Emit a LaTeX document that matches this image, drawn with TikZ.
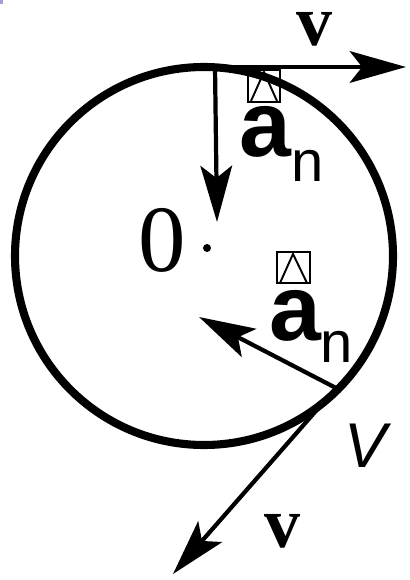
\documentclass[tikz,border=0pt]{standalone}
\usepackage{fontspec}
\setmainfont{Liberation Serif}
\newfontfamily\arialfont{Liberation Sans}
\usetikzlibrary{arrows.meta}
\begin{document}
\begin{tikzpicture}[x=0.02cm,y=-0.02cm,
  vec/.style={line width=2.4pt,-{Stealth[length=32pt,width=18pt,inset=7pt]}},
  ring/.style={line width=4.6pt},
  lbl/.style={inner sep=0pt,anchor=base},
  vlbl/.style={lbl,font=\fontsize{41}{41}\selectfont\bfseries},
  abox/.style={line width=1.1pt}]
\useasboundingbox (0,0) rectangle (409,580);
\fill[fill={rgb,255:red,160;green,160;blue,220}] (0,0) rectangle (3,4);
% circle
\coordinate (O) at (204,256);
\draw[ring] (O) circle (189);
% points
\coordinate (T) at (212,67);
\coordinate (Tr) at (406,67);
\coordinate (Td) at (215,67);
\coordinate (Tdd) at (217,222);
\coordinate (P) at (336,388);
\coordinate (Pr) at (199,317);
\coordinate (Pt) at (173,574);
% arrows
\draw[vec] (T) -- (Tr);
\draw[vec] (Td) -- (Tdd);
\draw[vec] (P) -- (Pr);
\draw[vec] (P) -- (Pt);
% center
\fill (207,248) circle (4);
\node[lbl,font=\fontsize{54}{54}\selectfont] (zero) at (162,272) {0};
% labels v
\node[vlbl] (v1) at (315,46) {v};
\node[vlbl] (v2) at (283,547) {v};
\node[lbl,font=\fontsize{36}{36}\selectfont\arialfont\itshape] (V) at (366,467) {V};
% a_n top
\node[lbl,font=\fontsize{53}{53}\selectfont\arialfont\bfseries] (a1) at (265,157) {a};
\node[lbl,font=\fontsize{33}{33}\selectfont\arialfont] (n1) at (308,182) {n};
\draw[abox] (248,70) rectangle (280,102);
\draw[abox] (251,101) -- (264,72) -- (277,101);
% a_n lower
\node[lbl,font=\fontsize{53}{53}\selectfont\arialfont\bfseries] (a2) at (295,340) {a};
\node[lbl,font=\fontsize{33}{33}\selectfont\arialfont] (n2) at (337,362) {n};
\draw[abox] (277,252) rectangle (310,283);
\draw[abox] (280,283) -- (293,254) -- (307,283);
\end{tikzpicture}
\end{document}
